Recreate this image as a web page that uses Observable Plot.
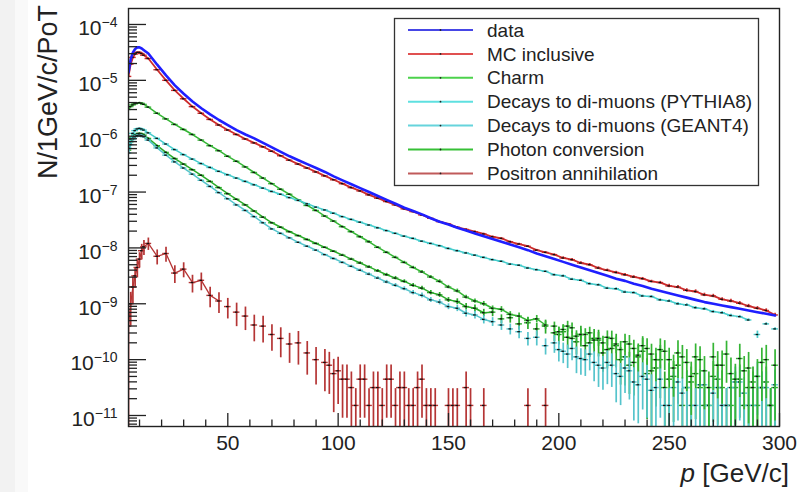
<!DOCTYPE html>
<html><head><meta charset="utf-8">
<script src="https://cdn.jsdelivr.net/npm/d3@7"></script>
<script src="https://cdn.jsdelivr.net/npm/@observablehq/plot@0.6"></script>
<style>
html,body{margin:0;padding:0;background:#fff;}
#chart{width:806px;height:492px;position:relative;overflow:hidden;}
</style></head><body><div id="chart"></div>
<script>
// momentum bin centres [GeV/c]
const p = [5,6,7,8,9,10,11,12,14,18,
 22,26,30,34,38,42,46,50,54,58,
 62,66,70,74,78,82,86,90,94,98,
 102,106,110,114,118,122,126,130,134,138,
 142,146,150,154,158,162,166,170,174,178,
 182,186,190,194,198,202,206,210,214,218,
 222,226,230,234,238,242,246,250,254,258,
 262,266,270,274,278,282,286,290,294,298];
// extra bins read in the noisy tails
const pTail = [200,204,208,212,216,220,224,228,232,236,240,244,248,252,256,260,264,268,272,276,280,284,288,292,296];
const pMid = [96,100,104,108,112,116,120,124,128,132,136,140,144,152,160];

// log10(N/1GeV/c/PoT)
const dataLog = [-4.86,-4.62,-4.50,-4.44,-4.41,-4.41,-4.43,-4.46,-4.52,-4.72,
 -4.91,-5.09,-5.24,-5.38,-5.50,-5.61,-5.71,-5.80,-5.89,-5.97,
 -6.04,-6.12,-6.20,-6.28,-6.36,-6.43,-6.50,-6.57,-6.64,-6.72,
 -6.79,-6.86,-6.93,-7.00,-7.07,-7.14,-7.21,-7.28,-7.34,-7.40,
 -7.47,-7.53,-7.58,-7.64,-7.69,-7.74,-7.79,-7.84,-7.89,-7.94,
 -7.99,-8.04,-8.10,-8.15,-8.20,-8.25,-8.30,-8.35,-8.40,-8.45,
 -8.50,-8.55,-8.59,-8.64,-8.68,-8.73,-8.77,-8.81,-8.85,-8.89,
 -8.93,-8.97,-9.00,-9.03,-9.06,-9.09,-9.12,-9.15,-9.18,-9.21];

const mcLog = [-4.93,-4.71,-4.59,-4.53,-4.50,-4.50,-4.52,-4.55,-4.61,-4.81,
 -5.00,-5.18,-5.33,-5.47,-5.59,-5.70,-5.80,-5.89,-5.97,-6.05,
 -6.12,-6.19,-6.27,-6.35,-6.43,-6.50,-6.57,-6.64,-6.71,-6.78,
 -6.85,-6.92,-6.98,-7.05,-7.11,-7.17,-7.23,-7.30,-7.35,-7.41,
 -7.47,-7.53,-7.57,-7.63,-7.67,-7.71,-7.75,-7.80,-7.83,-7.89,
 -7.93,-7.97,-8.04,-8.08,-8.12,-8.18,-8.21,-8.27,-8.30,-8.36,
 -8.40,-8.44,-8.48,-8.52,-8.55,-8.60,-8.62,-8.68,-8.70,-8.76,
 -8.78,-8.84,-8.86,-8.92,-8.95,-8.99,-9.04,-9.08,-9.12,-9.20];
const mcErr = [0.01,0.01,0.01,0.01,0.01,0.01,0.01,0.01,0.01,0.01,
 0.01,0.01,0.01,0.01,0.01,0.01,0.01,0.01,0.01,0.01,
 0.01,0.01,0.01,0.01,0.01,0.01,0.01,0.01,0.01,0.01,
 0.02,0.02,0.02,0.02,0.02,0.02,0.02,0.02,0.02,0.02,
 0.02,0.02,0.02,0.03,0.03,0.03,0.03,0.03,0.03,0.03,
 0.03,0.03,0.03,0.03,0.03,0.05,0.05,0.05,0.05,0.05,
 0.05,0.05,0.05,0.05,0.05,0.05,0.05,0.07,0.07,0.07,
 0.07,0.07,0.07,0.07,0.07,0.07,0.07,0.07,0.07,0.07];

const charmLog = [-5.52,-5.47,-5.44,-5.42,-5.41,-5.40,-5.41,-5.43,-5.48,-5.59,
 -5.69,-5.79,-5.88,-5.97,-6.07,-6.17,-6.26,-6.36,-6.45,-6.55,
 -6.65,-6.75,-6.85,-6.95,-7.04,-7.14,-7.24,-7.33,-7.43,-7.52,
 -7.62,-7.71,-7.80,-7.89,-7.99,-8.08,-8.17,-8.26,-8.35,-8.43,
 -8.52,-8.60,-8.70,-8.77,-8.88,-8.95,-9.00,-9.08,-9.10,-9.19,
 -9.22,-9.30,-9.27,-9.38,-9.40,-9.46,-9.43,-9.55,-9.52,-9.62,
 -9.60,-9.72,-9.68,-9.80,-9.75,-9.90,-9.82,-10.0,-9.88,-10.05,
 -9.95,-10.2,-9.95,-10.1,-10.25,-9.98,-10.15,-10.3,-10.0,-10.1];
const charmErr = [0.02,0.02,0.02,0.02,0.02,0.02,0.02,0.02,0.02,0.02,
 0.02,0.02,0.02,0.02,0.02,0.02,0.02,0.02,0.02,0.02,
 0.02,0.02,0.02,0.02,0.02,0.02,0.02,0.02,0.02,0.02,
 0.03,0.03,0.03,0.04,0.04,0.04,0.05,0.05,0.05,0.06,
 0.06,0.07,0.07,0.08,0.08,0.09,0.10,0.10,0.12,0.12,
 0.14,0.15,0.15,0.17,0.18,0.20,0.22,0.24,0.26,0.28,
 0.30,0.33,0.36,0.40,0.45,0.50,0.55,0.60,0.65,0.70,
 0.70,0.80,0.75,0.80,0.90,0.80,0.90,1.00,0.80,0.90];
const charmTailLog = [-9.50,-9.40,-9.58,-9.55,-9.65,-9.70,-9.62,-9.82,-9.72,-9.92,-9.80,-10.0,-9.85,
 -10.15,-9.95,-10.3,-10.0,-10.5,-10.1,-9.9,-10.35,-10.2,-10.5,-10.05,-10.82];
const charmTailErr = [0.20,0.22,0.25,0.27,0.30,0.32,0.35,0.40,0.42,0.50,0.50,0.60,0.55,
 0.70,0.60,0.80,0.70,0.90,0.75,0.70,0.85,0.80,0.90,0.80,1.00];

const pythiaLog = [-6.20,-6.05,-5.95,-5.90,-5.87,-5.86,-5.87,-5.89,-5.94,-6.04,
 -6.14,-6.24,-6.33,-6.41,-6.49,-6.56,-6.63,-6.69,-6.75,-6.81,
 -6.87,-6.93,-6.99,-7.04,-7.10,-7.15,-7.21,-7.27,-7.32,-7.38,
 -7.44,-7.49,-7.54,-7.59,-7.64,-7.69,-7.74,-7.79,-7.83,-7.88,
 -7.92,-7.96,-8.01,-8.05,-8.09,-8.13,-8.17,-8.21,-8.24,-8.29,
 -8.31,-8.36,-8.39,-8.42,-8.48,-8.50,-8.56,-8.58,-8.64,-8.66,
 -8.72,-8.73,-8.79,-8.80,-8.86,-8.87,-8.93,-8.95,-9.00,-9.02,
 -9.07,-9.09,-9.14,-9.16,-9.21,-9.23,-9.29,-9.55,-9.36,-9.45];
const pythiaErr = [0.02,0.02,0.02,0.02,0.02,0.02,0.02,0.02,0.02,0.02,
 0.02,0.02,0.02,0.02,0.02,0.02,0.02,0.02,0.02,0.02,
 0.02,0.02,0.02,0.02,0.02,0.02,0.02,0.02,0.02,0.02,
 0.02,0.02,0.02,0.02,0.02,0.02,0.02,0.02,0.02,0.02,
 0.02,0.02,0.03,0.03,0.03,0.03,0.03,0.03,0.03,0.03,
 0.03,0.03,0.03,0.03,0.03,0.04,0.04,0.04,0.04,0.04,
 0.04,0.04,0.04,0.04,0.04,0.04,0.04,0.05,0.05,0.05,
 0.05,0.05,0.05,0.05,0.05,0.05,0.05,0.15,0.05,0.05];

const geantLog = [-6.30,-6.15,-6.06,-6.01,-5.99,-5.98,-5.99,-6.01,-6.07,-6.21,
 -6.34,-6.46,-6.57,-6.68,-6.79,-6.90,-7.01,-7.12,-7.23,-7.33,
 -7.44,-7.55,-7.66,-7.74,-7.82,-7.90,-7.97,-8.04,-8.12,-8.19,
 -8.26,-8.33,-8.40,-8.47,-8.54,-8.61,-8.67,-8.73,-8.80,-8.85,
 -8.93,-8.97,-9.05,-9.08,-9.17,-9.20,-9.28,-9.32,-9.38,-9.45,
 -9.50,-9.62,-9.60,-9.75,-9.70,-9.85,-9.80,-9.98,-9.90,-10.1,
 -10.05,-10.25,-10.15,-10.4,-10.3,-10.55,-10.35,-10.82,-10.4,-10.5,
 -10.82,-10.45,-10.6,-10.82,-10.5,-10.4,-10.82,-10.3,-10.5,-10.45];
const geantErr = [0.03,0.03,0.03,0.03,0.03,0.03,0.03,0.03,0.02,0.02,
 0.02,0.02,0.02,0.02,0.02,0.02,0.02,0.02,0.02,0.02,
 0.02,0.02,0.02,0.02,0.02,0.02,0.02,0.02,0.02,0.02,
 0.04,0.05,0.05,0.06,0.06,0.07,0.08,0.08,0.09,0.10,
 0.10,0.11,0.12,0.13,0.14,0.15,0.17,0.18,0.20,0.22,
 0.25,0.27,0.30,0.32,0.35,0.40,0.40,0.50,0.50,0.60,
 0.60,0.70,0.65,0.80,0.75,0.90,0.80,1.00,0.80,0.90,
 1.00,0.85,0.90,1.00,0.90,0.80,1.00,0.80,0.90,0.85];
const geantTailLog = [-9.82,-9.90,-9.95,-10.0,-10.05,-10.15,-10.1,-10.3,-10.2,-10.45,-10.35,-10.5,-10.82,
 -10.5,-10.6,-10.82,-10.45,-10.82,-10.5,-10.82,-10.4,-10.6,-10.82,-10.5,-10.82];
const geantTailErr = [0.40,0.45,0.50,0.50,0.55,0.60,0.60,0.70,0.70,0.80,0.80,0.90,1.00,
 0.90,0.90,1.00,0.85,1.00,0.90,1.00,0.85,0.90,1.00,0.90,1.00];

const photonLog = [-6.25,-6.10,-6.02,-5.98,-5.96,-5.95,-5.96,-5.98,-6.04,-6.17,
 -6.29,-6.40,-6.50,-6.60,-6.70,-6.81,-6.92,-7.03,-7.13,-7.23,
 -7.34,-7.45,-7.55,-7.63,-7.71,-7.78,-7.85,-7.92,-7.99,-8.06,
 -8.13,-8.20,-8.27,-8.34,-8.41,-8.48,-8.54,-8.60,-8.67,-8.72,
 -8.80,-8.84,-8.93,-8.96,-9.05,-9.08,-9.16,-9.15,-9.27,-9.25,
 -9.36,-9.34,-9.45,-9.40,-9.52,-9.50,-9.62,-9.55,-9.70,-9.65,
 -9.82,-9.75,-9.95,-10.05,-9.85,-10.2,-10.0,-10.35,-10.1,-10.5,
 -10.25,-10.82,-10.3,-10.5,-10.82,-10.35,-10.5,-10.82,-10.4,-10.5];
const photonErr = [0.03,0.03,0.03,0.03,0.03,0.03,0.03,0.03,0.02,0.02,
 0.02,0.02,0.02,0.02,0.02,0.02,0.02,0.02,0.02,0.02,
 0.02,0.02,0.02,0.02,0.02,0.02,0.02,0.02,0.02,0.02,
 0.04,0.04,0.05,0.05,0.06,0.06,0.07,0.07,0.08,0.08,
 0.09,0.10,0.10,0.12,0.13,0.14,0.15,0.17,0.18,0.20,
 0.22,0.24,0.26,0.28,0.30,0.33,0.36,0.40,0.45,0.50,
 0.55,0.60,0.70,0.75,0.70,0.90,0.80,0.90,0.80,1.00,
 0.85,1.00,0.85,1.00,1.00,0.80,1.00,1.00,0.85,1.00];
const photonTailLog = [-9.55,-9.60,-9.68,-9.75,-9.62,-9.88,-9.80,-10.0,-10.1,-9.95,-10.25,-10.15,-10.5,
 -10.3,-10.82,-10.4,-10.5,-10.82,-10.35,-10.82,-10.5,-10.82,-10.4,-10.5,-10.82];
const photonTailErr = [0.35,0.40,0.42,0.45,0.45,0.55,0.55,0.65,0.70,0.70,0.85,0.80,0.90,
 0.85,1.00,0.85,0.90,1.00,0.85,1.00,0.90,1.00,0.85,0.90,1.00];

const positronLog = [-9.40,-9.00,-8.70,-8.50,-8.35,-8.20,-8.05,-7.98,-7.92,-8.15,
 -8.10,-8.45,-8.38,-8.62,-8.58,-8.85,-8.95,-9.05,-9.15,-9.22,
 -9.38,-9.40,-9.55,-9.62,-9.72,-9.70,-9.88,-10.0,-10.05,-10.25,
 -10.35,-10.5,-10.35,-10.82,-10.5,-10.35,-10.82,-10.5,-10.82,-10.35,
 -10.82,null,-10.82,-10.82,-10.5,null,-10.82,null,null,null,
 null,-10.82,null,-10.82,null,null,null,null,null,null,
 null,null,null,null,null,null,null,null,null,null,
 null,null,null,null,null,null,null,null,null,null];
const positronErr = [1.00,0.60,0.50,0.40,0.35,0.30,0.30,0.30,0.25,0.30,
 0.30,0.35,0.30,0.35,0.35,0.40,0.40,0.40,0.45,0.45,
 0.50,0.50,0.50,0.55,0.55,0.60,0.60,0.65,0.70,0.80,
 0.80,0.90,0.80,1.00,0.90,0.80,1.00,0.90,1.00,0.80,
 1.00,null,1.00,1.00,0.90,null,1.00,null,null,null,
 null,1.00,null,1.00,null,null,null,null,null,null,
 null,null,null,null,null,null,null,null,null,null,
 null,null,null,null,null,null,null,null,null,null];
const positronMidLog = [-10.1,-10.2,-10.35,-10.82,-10.35,-10.5,-10.82,-10.35,-10.5,-10.82,-10.5,-10.82,-10.82,-10.82,-10.82];
const positronMidErr = [0.70,0.75,0.80,1.00,0.80,0.90,1.00,0.80,0.90,1.00,0.90,1.00,1.00,1.00,1.00];

const seriesNames = ["data","MC inclusive","Charm","Decays to di-muons (PYTHIA8)",
  "Decays to di-muons (GEANT4)","Photon conversion","Positron annihilation"];
const seriesLogs = [dataLog, mcLog, charmLog, pythiaLog, geantLog, photonLog, positronLog];
const seriesErrs = [null, mcErr, charmErr, pythiaErr, geantErr, photonErr, positronErr];
// extra bins: [grid, values, errors] per series
const seriesExtra = [null, null, [pTail, charmTailLog, charmTailErr], null,
  [pTail, geantTailLog, geantTailErr], [pTail, photonTailLog, photonTailErr],
  [pMid, positronMidLog, positronMidErr]];

// axis ticks
const xMajor = [50,100,150,200,250,300];
const xMinor = [10,20,30,40,60,70,80,90,110,120,130,140,160,170,180,190,210,220,230,240,260,270,280,290];
const yExp = [-4,-5,-6,-7,-8,-9,-10,-11];
const yDomainExp = [-11.197, -3.714];
const xDomain = [5, 300];

// ---- styles ----
const plotColors = ["#1f1fff","#cc2b2b","#35b535","#45cccc","#55c4cc","#2aaa2a","#b53535"];
const legendColors = ["#4646e6","#e05050","#4cd24c","#5ee0e0","#66d4dc","#36c036","#c05a5a"];
const lineUntil = [300, 300, 194, 286, 170, 170, 46];
const lineWidth = [2.6, 1.8, 1.5, 1.5, 1.5, 1.5, 1.3];
const drawOrder = [6, 5, 4, 2, 3, 1, 0];

const W = 806, H = 492, mL = 128, mR = 27, mT = 8, mB = 66;
const plotW = W - mL - mR, plotH = H - mT - mB;
const yMin = 10 ** yDomainExp[0], yMax = 10 ** yDomainExp[1];

const yMinor = [];
for (let e = -12; e <= -4; e++) for (let m = 2; m <= 9; m++) {
  const v = m * 10 ** e; if (v > yMin && v < yMax) yMinor.push(v);
}

const marks = [];
for (const k of drawOrder) {
  const logs = seriesLogs[k], errs = seriesErrs[k];
  const rows = [];
  p.forEach((x, i) => {
    if (logs[i] == null) return;
    rows.push({x, v: 10 ** logs[i], r: errs ? errs[i] : 0});
  });
  const extra = [];
  if (seriesExtra[k]) {
    const [px, lv, er] = seriesExtra[k];
    px.forEach((x, i) => { if (lv[i] != null) extra.push({x, v: 10 ** lv[i], r: er[i]}); });
  }
  const col = plotColors[k];
  if (lineUntil[k]) marks.push(Plot.line(rows.filter(d => d.x <= lineUntil[k]),
    {x: "x", y: "v", stroke: col, strokeWidth: lineWidth[k], clip: true}));
  if (errs) {
    const all = rows.concat(extra);
    marks.push(Plot.ruleX(all, {x: "x", y1: d => d.r >= 1 ? yMin : d.v * (1 - d.r),
      y2: d => d.v * (1 + d.r), stroke: col, strokeWidth: 1.7, clip: true}));
    marks.push(Plot.ruleY(all, {y: "v", x1: d => d.x - 1.5, x2: d => d.x + 1.5,
      stroke: col, strokeWidth: 1.4, clip: true}));
    marks.push(Plot.ruleY(all, {y: "v", x1: d => d.x - 0.6, x2: d => d.x + 0.6,
      stroke: "#111", strokeWidth: 1.3, clip: true}));
  }
}

const chart = Plot.plot({
  width: W, height: H,
  marginLeft: mL, marginRight: mR, marginTop: mT, marginBottom: mB,
  style: {fontFamily: "'Liberation Sans', Arial, Helvetica, sans-serif", fontSize: "21px", background: "transparent", color: "#222"},
  x: {domain: xDomain, axis: null},
  y: {type: "log", domain: [yMin, yMax], axis: null},
  marks: [
    ...marks,
    Plot.tickX(xMajor, {x: d => d, insetTop: plotH - 13, stroke: "#222", strokeWidth: 1.3}),
    Plot.tickX(xMinor, {x: d => d, insetTop: plotH - 6.5, stroke: "#222", strokeWidth: 1.3}),
    Plot.tickY(yExp.map(e => 10 ** e), {y: d => d, insetRight: plotW - 18, stroke: "#222", strokeWidth: 1.3}),
    Plot.tickY(yMinor, {y: d => d, insetRight: plotW - 9, stroke: "#222", strokeWidth: 1.3}),
    Plot.frame({stroke: "#222", strokeWidth: 1.4}),
    Plot.text(xMajor, {x: d => d, frameAnchor: "bottom", dy: 17, text: d => String(d),
      fontSize: 21, fill: "#222", lineAnchor: "middle"}),
    Plot.text(yExp, {y: e => 10 ** e, frameAnchor: "left", dx: -11, dy: 4, textAnchor: "end",
      text: e => "10^−" + Math.abs(e), fontSize: 21, fill: "#222", lineAnchor: "middle"})
  ]
});
document.getElementById("chart").appendChild(chart);

const ns = "http://www.w3.org/2000/svg";
chart.querySelectorAll("text").forEach(t => {
  const m = /^10\^(.+)$/.exec(t.textContent);
  if (!m) return;
  t.textContent = "";
  const a = document.createElementNS(ns, "tspan"); a.textContent = "10"; t.appendChild(a);
  const b = document.createElementNS(ns, "tspan"); b.textContent = m[1];
  b.setAttribute("dy", "-8"); b.setAttribute("font-size", "14"); t.appendChild(b);
});

const svg = d3.select(chart);
svg.insert("rect", ":first-child").attr("x", 15).attr("y", 0).attr("width", 13).attr("height", H).attr("fill", "#f9f9f9");
svg.insert("rect", ":first-child").attr("x", 0).attr("y", 0).attr("width", 15).attr("height", H).attr("fill", "#f2f2f2");

// axis titles
svg.append("text").attr("transform", "translate(57,5) rotate(-90)")
  .attr("text-anchor", "end").attr("font-size", 27).attr("fill", "#222").text("N/1GeV/c/PoT");
const xt = svg.append("text").attr("x", 789).attr("y", 482).attr("text-anchor", "end")
  .attr("font-size", 26).attr("fill", "#222");
xt.append("tspan").attr("font-style", "italic").text("p");
xt.append("tspan").text(" [GeV/c]");

// legend
const lg = svg.append("g").attr("text-anchor", "start");
lg.append("rect").attr("x", 394.5).attr("y", 18.5).attr("width", 364).attr("height", 167)
  .attr("fill", "#fff").attr("stroke", "#333").attr("stroke-width", 1.3);
seriesNames.forEach((name, i) => {
  const y = 30 + 23.9 * i;
  lg.append("line").attr("x1", 408).attr("x2", 473).attr("y1", y).attr("y2", y)
    .attr("stroke", legendColors[i]).attr("stroke-width", 2);
  lg.append("circle").attr("cx", 440.5).attr("cy", y).attr("r", 0.9).attr("fill", "#222");
  lg.append("text").attr("x", 487).attr("y", y).attr("dy", "0.35em").attr("font-size", 19)
    .attr("text-anchor", "start").attr("fill", "#222").text(name);
});
</script>
</body></html>
